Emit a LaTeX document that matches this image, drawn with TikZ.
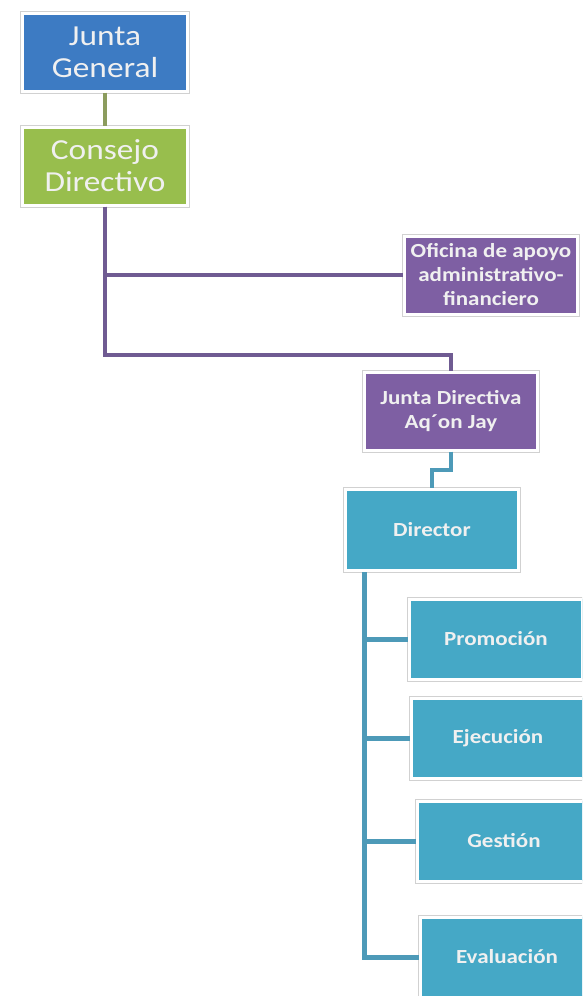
\documentclass[tikz,border=0pt]{standalone}
\usepackage{fontspec}
\setmainfont{Carlito}[FakeStretch=1.15]

\definecolor{jgblue}{HTML}{3D7BC3}
\definecolor{cdgreen}{HTML}{98BE4D}
\definecolor{orgpurple}{HTML}{7E5FA3}
\definecolor{orgteal}{HTML}{45A8C6}
\definecolor{olivelink}{HTML}{8C9C5E}
\definecolor{purplelink}{HTML}{6F5B92}
\definecolor{teallink}{HTML}{4D9AB8}

\tikzset{
    orgbox/.style={preaction={draw=black!18, line width=5pt}, draw=white, line width=3pt,
        text=white!94!black, align=center, inner sep=0pt,
        minimum width=173pt, minimum height=78pt},
    bigtext/.style={font=\fontsize{29}{32}\selectfont, minimum width=165pt},
    smalltext/.style={font=\bfseries\fontsize{20}{24}\selectfont},
    link/.style={line width=4pt}
}

\begin{document}
\begin{tikzpicture}[x=1pt, y=-1pt]
    \clip (0,0) rectangle (582,996);
    \fill[white] (0,0) rectangle (582,996);

    \node[orgbox, bigtext, fill=jgblue] (jg) at (105,52) {Junta\\General};
    \node[orgbox, bigtext, fill=cdgreen] (cd) at (105,166) {Consejo\\Directivo};
    \node[orgbox, smalltext, fill=orgpurple] (ofi) at (491,275) {Oficina de apoyo\\administrativo-\\financiero};
    \node[orgbox, smalltext, fill=orgpurple] (jd) at (451,411) {Junta Directiva\\Aq´on Jay};
    \node[orgbox, smalltext, fill=orgteal, minimum height=81pt] (dir) at (432,530) {Director};

    \foreach \name/\txt/\x/\y in {prom/Promoción/496/639, ejec/Ejecución/498/738,
        gest/Gestión/504/841, eval/Evaluación/507/957} {
        \node[orgbox, smalltext, fill=orgteal, minimum height=80pt] (\name) at (\x,\y) {\txt};
        \draw[link, teallink, line width=5pt] ([xshift=20pt]dir.south west) |- (\name.west);
    }

    \draw[link, olivelink] (jg.south) -- (cd.south |- jg.south) -- (cd.north);
    \coordinate (bus) at (cd.south |- 0,355);
    \draw[link, purplelink] (cd.south) |- (ofi.west);
    \draw[link, purplelink] (cd.south) -- (bus) -| (jd.north);
    \draw[link, teallink] (jd.south) -- ++(0,18) -| (dir.north);
\end{tikzpicture}
\end{document}
